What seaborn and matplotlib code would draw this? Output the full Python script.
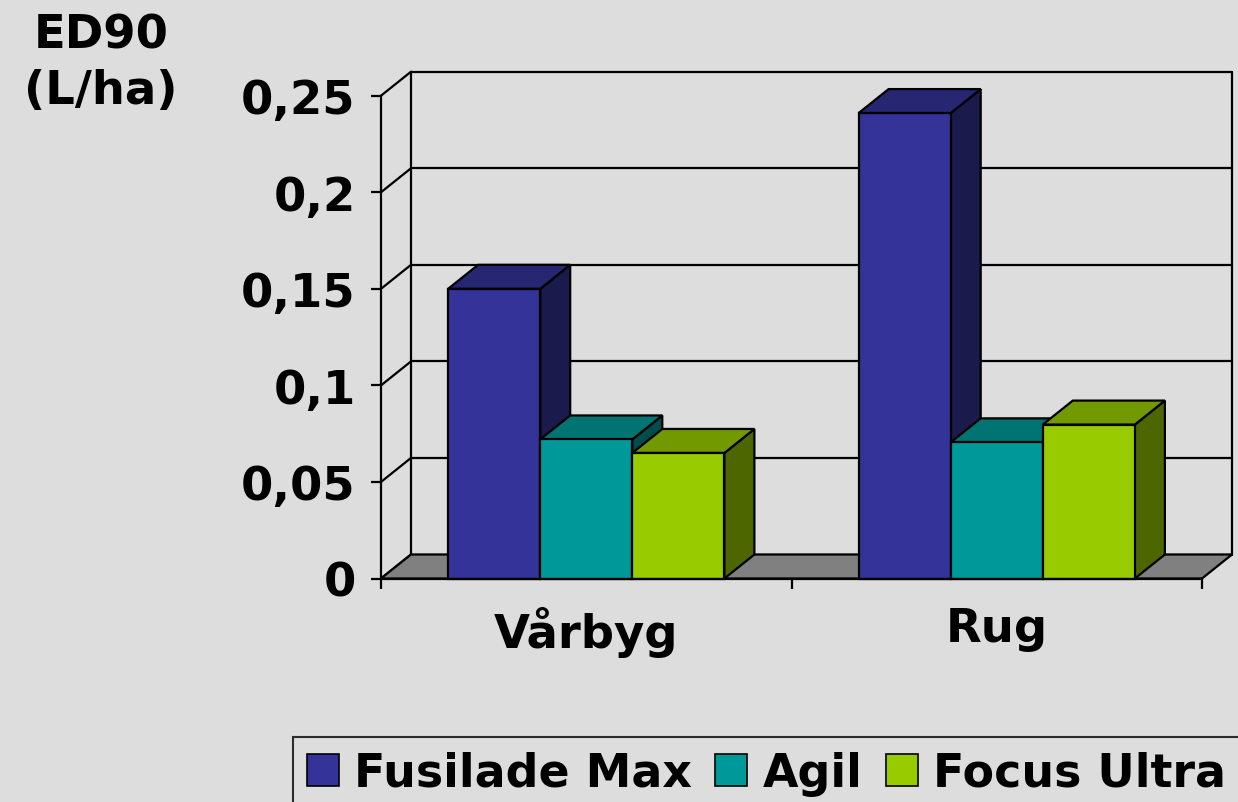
import numpy as np
import pandas as pd
import matplotlib
matplotlib.use("Agg")
import matplotlib.pyplot as plt
from matplotlib.patches import Polygon, Patch, Rectangle
from matplotlib.lines import Line2D
from matplotlib.colors import to_rgb
import seaborn as sns

# ---------------- data ----------------
crops = ["Vårbyg", "Rug"]
products = ["Fusilade Max", "Agil", "Focus Ultra"]
fusilade = [0.150, 0.241]
agil = [0.072, 0.0705]
focus = [0.065, 0.0797]
yticks = [0, 0.05, 0.1, 0.15, 0.2, 0.25]
ytick_labels = ["0", "0,05", "0,1", "0,15", "0,2", "0,25"]
colors = ["#333399", "#009999", "#99CC00"]

df = pd.DataFrame({
    "crop": crops * 3,
    "product": [p for p in products for _ in crops],
    "value": fusilade + agil + focus,
})

BG = "#DDDDDD"
FS = 33.5
sns.set_style("white")
plt.rcParams["font.family"] = ["DejaVu Sans"]
plt.rcParams["font.weight"] = "bold"
plt.rcParams["text.color"] = "black"
plt.rcParams["xtick.labelcolor"] = "black"
plt.rcParams["ytick.labelcolor"] = "black"

W, H = 1238, 803
fig = plt.figure(figsize=(W / 100, H / 100), dpi=100, facecolor=BG)
ax = fig.add_axes([381 / W, 1 - 579.5 / H, (1202 - 381) / W, (579.5 - 96.7) / H])
ax.set_facecolor("none")

sns.barplot(data=df, x="crop", y="value", hue="product", order=crops,
            hue_order=products, palette=colors, saturation=1, width=0.673,
            edgecolor="black", linewidth=1.6, legend=False, ax=ax)
bars = [p for p in ax.patches if isinstance(p, Rectangle) and p.get_height() > 0]
bars = sorted(bars, key=lambda p: p.get_x())

ax.set_xlim(-0.5, len(crops) - 0.5)
ax.set_ylim(0, 0.25)

# depth offset in data units (about 30 px right, 24 px up)
px_x = ax.bbox.width / (len(crops))
px_y = ax.bbox.height / 0.25
dx = 30 / px_x
dy = 24 / px_y
x0, x1 = -0.5, len(crops) - 0.5
lw = 1.6

# back wall gridlines & left wall diagonals
for v in yticks:
    ax.add_line(Line2D([x0 + dx, x1 + dx], [v + dy, v + dy], color="black", lw=lw, zorder=1, clip_on=False))
    ax.add_line(Line2D([x0, x0 + dx], [v, v + dy], color="black", lw=lw, zorder=1, clip_on=False))
ax.add_line(Line2D([x0 + dx, x0 + dx], [dy, 0.25 + dy], color="black", lw=lw, zorder=1, clip_on=False))
ax.add_line(Line2D([x1 + dx, x1 + dx], [dy, 0.25 + dy], color="black", lw=lw, zorder=1, clip_on=False))

# floor
ax.add_patch(Polygon([(x0, 0), (x1, 0), (x1 + dx, dy), (x0 + dx, dy)], closed=True,
                     facecolor="#808080", edgecolor="black", lw=lw, zorder=2, clip_on=False))

# 3D faces for bars
for i, b in enumerate(bars):
    bx, bw, bh = b.get_x(), b.get_width(), b.get_height()
    c = np.array(to_rgb(b.get_facecolor()))
    z = 10 + i
    b.set_zorder(z)
    b.set_clip_on(False)
    side = Polygon([(bx + bw, 0), (bx + bw + dx, dy), (bx + bw + dx, bh + dy), (bx + bw, bh)],
                   closed=True, facecolor=c * 0.5, edgecolor="black", lw=lw, zorder=z - 0.5, clip_on=False)
    top = Polygon([(bx, bh), (bx + bw, bh), (bx + bw + dx, bh + dy), (bx + dx, bh + dy)],
                  closed=True, facecolor=c * 0.75, edgecolor="black", lw=lw, zorder=z - 0.4, clip_on=False)
    ax.add_patch(side)
    ax.add_patch(top)

# axes styling
for s in ["top", "right"]:
    ax.spines[s].set_visible(False)
for s in ["left", "bottom"]:
    ax.spines[s].set_color("black")
    ax.spines[s].set_linewidth(lw)
    ax.spines[s].set_zorder(30)

ax.set_yticks(yticks)
ax.set_yticklabels(ytick_labels)
ax.tick_params(axis="y", direction="out", length=7.2, width=lw, color="black",
               pad=11, labelsize=FS, left=True, labelcolor="black")
ax.set_xticks(range(len(crops)))
ax.set_xticklabels(crops)
ax.set_xticks([x0 + k for k in range(len(crops) + 1)], minor=True)
ax.tick_params(axis="x", which="major", length=0, pad=20, labelsize=FS, labelcolor="black")
ax.tick_params(axis="x", which="minor", direction="out", length=7.2, width=lw, color="black", bottom=True)
for t in ax.get_xticklabels() + ax.get_yticklabels():
    t.set_fontweight("bold")
ax.set_xlabel("")
ax.set_ylabel("")

# y title
fig.text(101 / W, 1 - 36 / H, "ED90", ha="center", va="center", fontsize=FS, fontweight="bold", color="black")
fig.text(101 / W, 1 - 91 / H, "(L/ha)", ha="center", va="center", fontsize=FS, fontweight="bold", color="black")

# legend
handles = [Patch(facecolor=c, edgecolor="black", lw=1.2) for c in colors]
leg = fig.legend(handles, products, loc="upper left", bbox_to_anchor=(293 / W, 1 - 738 / H),
                 bbox_transform=fig.transFigure, ncol=3, frameon=True, fancybox=False,
                 prop={"size": 33, "weight": "bold"}, handlelength=0.7, handleheight=0.7,
                 handletextpad=0.34, columnspacing=0.5, borderpad=0.3, borderaxespad=0)
for t in leg.get_texts():
    t.set_color("black")
leg.get_frame().set_facecolor(BG)
leg.get_frame().set_edgecolor("black")
leg.get_frame().set_linewidth(1.5)

fig.savefig("out.png", dpi=100, facecolor=BG)
